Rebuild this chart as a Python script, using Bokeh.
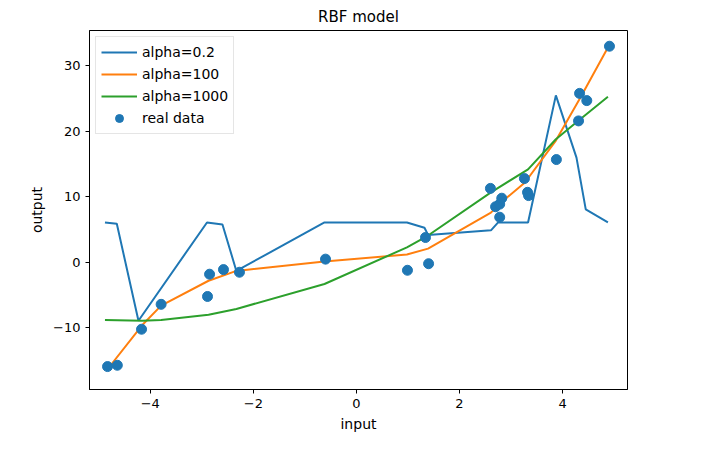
from bokeh.plotting import figure
from bokeh.models import Range1d, FixedTicker
from bokeh.embed import file_html
from bokeh.resources import INLINE

# real data points
data_x = [-4.83, -4.64, -4.17, -3.79, -2.89, -2.85, -2.58, -2.27, -0.60, 0.99, 1.34, 1.40,
          2.60, 2.70, 2.78, 2.82, 2.78, 3.26, 3.32, 3.34, 3.88, 4.33, 4.31, 4.47, 4.91]
data_y = [-15.9, -15.7, -10.2, -6.4, -5.2, -1.8, -1.1, -1.5, 0.5, -1.2, 3.8, -0.2,
          11.3, 8.5, 8.9, 9.8, 6.9, 12.8, 10.7, 10.2, 15.7, 25.8, 21.6, 24.7, 33.0]

# alpha=0.2 fit
a02_x = [-4.88, -4.65, -4.23, -2.90, -2.60, -2.33, -0.62, 0.98, 1.32, 1.39, 2.61, 2.75, 3.33, 3.87, 4.27, 4.45, 4.88]
a02_y = [6.1, 5.9, -8.9, 6.1, 5.8, -1.3, 6.1, 6.1, 5.3, 4.2, 4.9, 6.1, 6.1, 25.5, 16.0, 8.1, 6.1]

# alpha=100 fit
a100_x = [-4.85, -4.16, -3.79, -2.87, -2.33, -0.62, 0.98, 1.39, 2.61, 2.80, 3.27, 3.87, 4.35, 4.88]
a100_y = [-16.5, -9.6, -6.6, -2.8, -1.3, 0.15, 1.2, 2.1, 7.6, 9.1, 12.2, 18.6, 25.2, 32.8]

# alpha=1000 fit
a1000_x = [-4.88, -4.16, -3.79, -2.87, -2.33, -0.62, 0.98, 1.39, 2.61, 3.33, 3.87, 4.27, 4.88]
a1000_y = [-8.8, -8.9, -8.8, -8.0, -7.1, -3.3, 2.3, 4.1, 10.7, 14.2, 18.8, 21.4, 25.3]

p = figure(width=700, height=445, title="RBF model", output_backend="svg", toolbar_location=None,
           x_range=Range1d(-5.18, 5.26), y_range=Range1d(-19.4, 35.4),
           min_border_left=89, min_border_right=73, min_border_top=30, min_border_bottom=56)

p.line(a02_x, a02_y, line_color="#1f77b4", line_width=2, legend_label="alpha=0.2")
p.line(a100_x, a100_y, line_color="#ff7f0e", line_width=2, legend_label="alpha=100")
p.line(a1000_x, a1000_y, line_color="#2ca02c", line_width=2, legend_label="alpha=1000")
p.scatter(data_x, data_y, size=10, color="#1f77b4", legend_label="real data")

p.title.align = "center"
p.title.text_font = "DejaVu Sans"
p.title.text_font_size = "15px"
p.title.text_font_style = "normal"
p.title.text_color = "black"
p.xgrid.visible = False
p.ygrid.visible = False
p.outline_line_color = "black"
p.xaxis.axis_label = "input"
p.yaxis.axis_label = "output"
p.xaxis.ticker = FixedTicker(ticks=[-4, -2, 0, 2, 4])
p.yaxis.ticker = FixedTicker(ticks=[-10, 0, 10, 20, 30])
for ax in (p.xaxis, p.yaxis):
    ax.axis_label_text_font = "DejaVu Sans"
    ax.axis_label_text_font_style = "normal"
    ax.axis_label_text_font_size = "14px"
    ax.axis_label_text_color = "black"
    ax.major_label_text_font = "DejaVu Sans"
    ax.major_label_text_font_size = "13px"
    ax.major_label_text_color = "black"
    ax.minor_tick_line_color = None
    ax.major_tick_in = 0
    ax.major_tick_out = 4
    ax.axis_line_color = "black"
p.legend.location = "top_left"
p.legend.label_text_font = "DejaVu Sans"
p.legend.label_text_font_size = "14px"
p.legend.label_text_color = "black"
p.legend.border_line_color = "#cccccc"
p.legend.glyph_width = 36
p.legend.spacing = 2
p.legend.padding = 5
p.legend.margin = 6

open("out.html", "w").write(file_html(p, INLINE))
